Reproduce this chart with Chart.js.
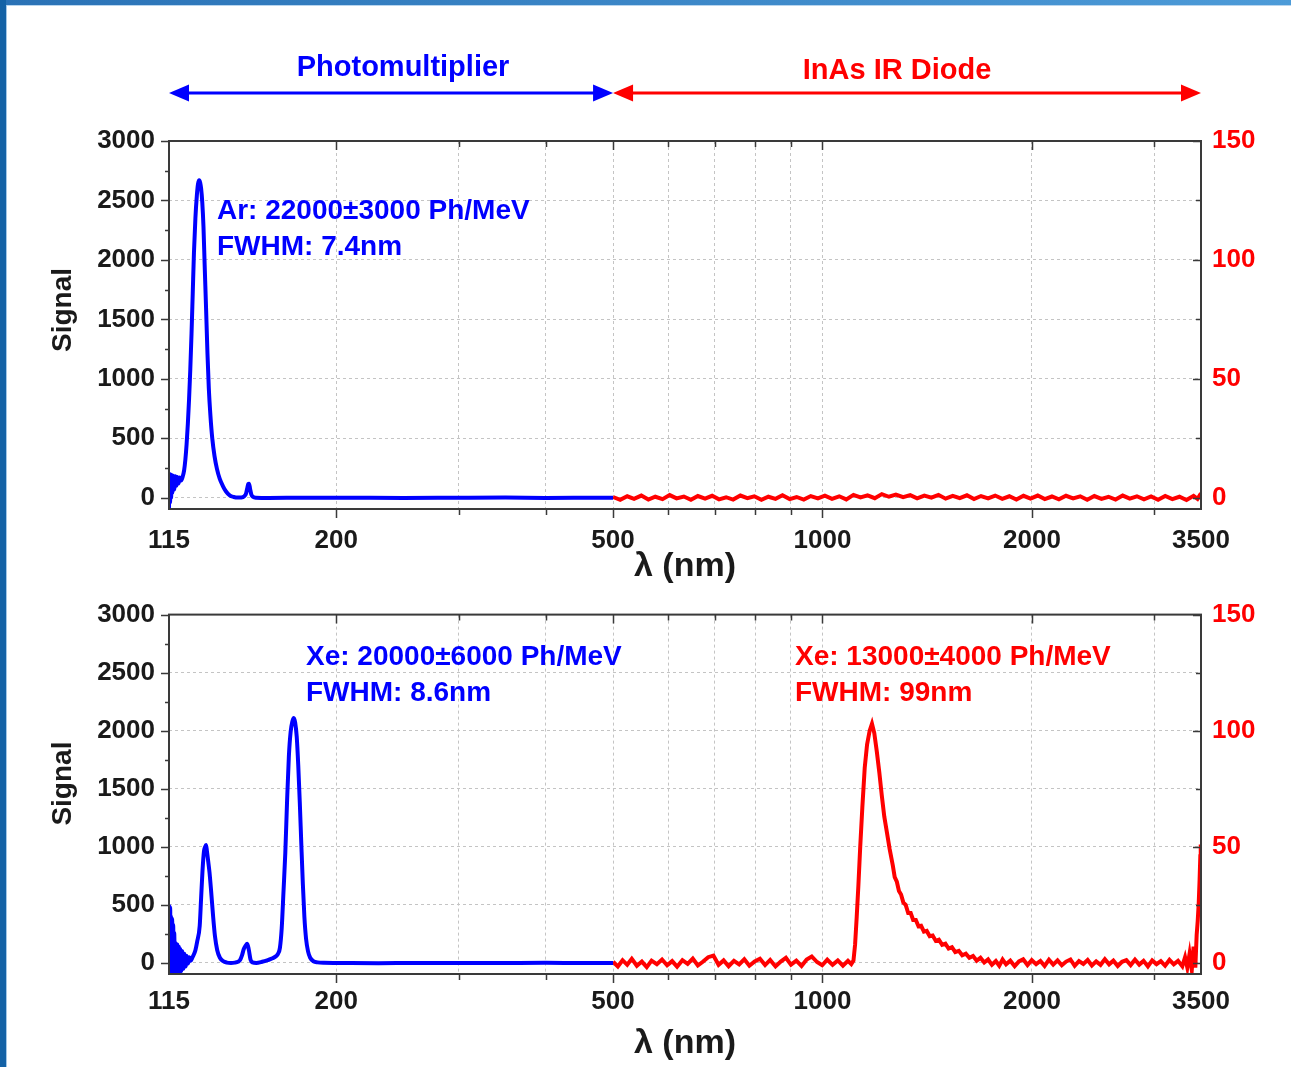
<!DOCTYPE html>
<html>
<head>
<meta charset="utf-8">
<script src="https://cdn.jsdelivr.net/npm/chart.js@4.4.1/dist/chart.umd.min.js"></script>
<style>
  html, body { margin:0; padding:0; background:#fff; width:1291px; height:1067px; overflow:hidden; position:relative; }
  canvas { position:absolute; left:0; }
  #c1 { top:0; }
  #c2 { top:585px; }
  #topbar { position:absolute; left:0; top:0; width:1291px; height:5px; background:linear-gradient(90deg,#2a72b6,#4d9bd8); }
  #topline { position:absolute; left:0; top:5px; width:1291px; height:1px; background:#b8d5ee; }
  #leftbar { position:absolute; left:0; top:0; width:6px; height:1067px; background:#1462a6; }
  #leftline { position:absolute; left:6px; top:5px; width:1px; height:1062px; background:#a3c8e8; }
</style>
</head>
<body>
<canvas id="c1" width="1291" height="585"></canvas>
<canvas id="c2" width="1291" height="482"></canvas>
<div id="topbar"></div><div id="topline"></div><div id="leftbar"></div><div id="leftline"></div>
<script>
// ---------------- DATA ----------------
// x axis (wavelength, nm, log scale)
const xGridValues  = [115, 200, 300, 400, 500, 600, 700, 800, 900, 1000, 2000, 3000, 3500];
const xLabelValues = [115, 200, 500, 1000, 2000, 3500];
// left axis (Signal) and right axis (InAs diode signal)
const leftTicks  = [0, 250, 500, 750, 1000, 1250, 1500, 1750, 2000, 2250, 2500, 2750, 3000];
const rightTicks = [0, 25, 50, 75, 100, 125, 150];

// detector ranges drawn as arrows above the top panel
const detectorNames = ['Photomultiplier', 'InAs IR Diode'];
const detectorFrom  = [115, 500];
const detectorTo    = [500, 3500];

// Ar – photomultiplier (nm, signal)
const arPmtSpectrum = [
  [115.0,-90],[115.2,200],[115.4,-40],[115.6,195],[115.8,0],[116.0,190],[116.3,40],[116.6,185],[117.0,70],[117.4,180],
  [117.8,100],[118.2,175],[118.7,120],[119.2,170],[119.7,145],[120.3,175],[120.9,230],[121.4,320],[121.9,450],[122.4,620],
  [122.9,830],[123.4,1080],[123.9,1380],[124.4,1720],[124.9,2060],[125.5,2350],[126.1,2540],[126.6,2640],[127.1,2670],[127.5,2650],
  [127.9,2600],[128.4,2480],[128.9,2280],[129.4,1960],[130.0,1600],[130.6,1220],[131.2,920],[131.9,690],[132.7,500],[133.7,350],
  [134.8,240],[136.0,160],[137.4,100],[138.9,52],[140.6,20],[142.5,6],[144.3,1],[146.0,2],[147.4,10],[148.4,35],
  [149.0,80],[149.5,115],[149.9,118],[150.4,75],[151.0,28],[151.9,6],[153.4,0],[160,-2],[180,0],[200,0],
  [250,-2],[300,0],[350,1],[400,-2],[450,-1],[500,0]
];
// Ar – InAs diode (nm, signal on right axis)
const arInasSpectrum = [
  [500,0.3],[512,-0.9],[524,0.6],[536,-0.5],[549,0.9],[562,-0.8],[575,0.4],[589,-0.6],[603,1.1],[617,-0.3],
  [632,0.5],[647,-0.9],[662,0.7],[678,-0.4],[694,0.8],[710,-0.7],[727,0.2],[744,-0.8],[762,0.9],[780,-0.2],
  [798,0.6],[817,-0.9],[836,0.4],[856,-0.5],[876,1.0],[897,-0.6],[918,0.3],[940,-0.8],[962,0.7],[985,-0.3],
  [1008,0.9],[1032,-0.5],[1057,0.6],[1082,-0.7],[1108,1.2],[1134,0.1],[1161,1.0],[1189,-0.2],[1217,1.5],[1246,0.4],
  [1275,1.3],[1306,0.2],[1337,1.1],[1368,-0.3],[1401,0.9],[1434,0.0],[1468,1.2],[1503,-0.4],[1539,0.8],[1575,-0.2],
  [1613,1.0],[1651,-0.6],[1690,0.7],[1730,-0.3],[1771,0.9],[1813,-0.5],[1856,0.6],[1900,-0.8],[1945,0.8],[1991,-0.4],
  [2039,0.9],[2087,-0.6],[2137,0.5],[2187,-0.7],[2239,0.8],[2292,-0.3],[2347,0.6],[2402,-0.9],[2459,0.7],[2518,-0.5],
  [2577,0.4],[2638,-0.8],[2701,0.9],[2765,-0.4],[2831,0.6],[2898,-0.7],[2967,0.5],[3037,-0.9],[3109,0.7],[3183,-0.6],
  [3259,0.4],[3336,-1.0],[3415,0.8],[3460,-0.5],[3500,1.8]
];
// Xe – photomultiplier (nm, signal)
const xePmtSpectrum = [
  [115.0,-90],[115.15,490],[115.3,-85],[115.45,480],[115.6,-85],[115.8,400],[116.0,-85],[116.2,380],[116.4,-85],[116.6,330],
  [116.8,-85],[117.0,260],[117.3,-85],[117.6,170],[117.9,-85],[118.2,160],[118.5,-85],[118.8,140],[119.1,-80],[119.4,120],
  [119.8,-70],[120.2,100],[120.6,-50],[121.0,80],[121.5,-30],[122.0,60],[122.5,-5],[123.0,50],[123.6,20],[124.2,45],
  [124.8,70],[125.5,110],[126.2,180],[127.3,320],[127.9,560],[128.5,800],[129.1,960],[129.6,1000],[130.0,1015],[130.4,960],
  [130.9,880],[131.5,780],[132.2,620],[133.0,420],[133.9,230],[134.9,110],[136.1,45],[137.6,15],[139.3,3],[141.2,0],
  [143.0,3],[144.5,10],[145.5,25],[146.5,70],[147.3,120],[148.2,150],[149.0,165],[149.8,110],[150.6,30],[151.6,5],
  [153.5,0],[156.5,10],[159.5,25],[162.0,40],[164.0,60],[165.0,80],[166.0,130],[167.0,300],[168.0,620],[169.0,950],
  [170.0,1400],[171.0,1780],[172.0,1990],[173.0,2080],[173.8,2110],[174.6,2070],[175.5,1950],[176.4,1700],[177.3,1380],[178.2,1020],
  [179.1,680],[180.0,400],[181.0,210],[182.2,100],[183.5,45],[185.5,15],[188,5],[192,1],[200,0],[230,-2],
  [260,0],[300,-1],[350,0],[400,1],[450,0],[500,0]
];
// Xe – InAs diode (nm, signal on right axis)
const xeInasSpectrum = [
  [500,0.5],[508,-1.5],[516,1.2],[524,-0.8],[532,1.8],[541,-1.2],[550,0.6],[559,-1.8],[568,1.0],[578,-0.5],
  [588,1.5],[598,-1.0],[608,0.8],[618,-1.6],[629,1.2],[640,-0.4],[651,1.9],[662,-1.1],[673,0.5],[685,2.5],
  [697,3.2],[709,-0.8],[721,1.1],[733,-1.4],[746,0.9],[759,-0.6],[772,1.6],[785,-1.2],[799,0.7],[813,1.8],
  [827,-0.9],[841,1.3],[856,-1.5],[871,0.6],[886,2.2],[901,-0.7],[917,1.0],[933,-1.3],[949,1.5],[965,2.8],
  [982,0.4],[999,-1.0],[1016,1.4],[1034,-0.8],[1052,1.1],[1070,-1.2],[1088,0.9],[1100,-0.5],
  [1108,1],[1114,8],[1120,20],[1126,33],[1133,50],[1141,67],[1150,84],[1159,94],[1169,100],[1178,103],
  [1187,99],[1197,91],[1207,82],[1217,72],[1227,63],[1238,56],[1249,49],[1262,42],[1270,37],[1279,35],
  [1288,31],[1297,29.5],[1307,26],[1317,25],[1328,21.5],[1339,21.5],[1350,18.5],[1362,18.5],[1374,15.8],[1386,16],
  [1399,13.5],[1412,13.8],[1426,11.5],[1440,11.8],[1455,9.5],[1470,10],[1486,7.8],[1502,8.3],[1518,6.2],[1535,6.8],
  [1552,4.7],[1570,5.2],[1588,3.3],[1607,4],[1626,2.2],[1646,3],[1666,1],[1687,2.2],[1708,0.2],[1730,1.5],
  [1752,-0.8],
  [1775,0.8],[1795,-1.2],[1815,1.5],[1836,-0.6],[1862,1.0],[1889,-1.4],[1916,0.7],[1943,1.6],[1971,-0.9],[1999,1.2],
  [2028,-0.5],[2057,0.9],[2086,-1.3],[2116,1.4],[2146,-0.7],[2177,1.1],[2208,-1.0],[2240,0.6],[2272,1.5],[2304,-1.2],
  [2337,0.8],[2371,-0.4],[2405,1.3],[2439,-1.1],[2474,0.7],[2510,-0.8],[2546,1.6],[2582,-0.6],[2619,1.0],[2657,-1.3],
  [2695,0.5],[2734,1.2],[2773,-0.9],[2813,1.4],[2853,-0.7],[2894,0.9],[2936,-1.5],[2978,1.1],[3021,-0.5],[3064,0.8],
  [3108,-1.2],[3153,1.3],[3198,-0.6],[3244,0.9],[3290,-1.4],
  [3320,2.5],[3345,-2],[3370,4],[3395,-3],[3415,7],[3435,-2],[3450,12],[3462,18],[3474,26],[3484,36],
  [3492,46],[3497,51],[3500,48]
];

// ---------------- STYLE ----------------
const BLUE = '#0000ff', RED = '#ff0000', INK = '#1a1a1a', GRID = '#c4c4c4', FRAME = '#3a3a3a';
const FONT = "'Liberation Sans', Arial, Helvetica, sans-serif";

const framePlugin = {
  id: 'frameTicks',
  afterDraw(chart) {
    const { ctx, chartArea: a, scales } = chart;
    const x = scales.x, y = scales.y, y2 = scales.y2;
    ctx.save();
    ctx.strokeStyle = FRAME;
    ctx.lineWidth = 1.5;
    ctx.beginPath();
    xGridValues.forEach(v => {
      if (v === 115 || v === 3500) return;
      const px = Math.round(x.getPixelForValue(v)) + 0.5;
      const len = xLabelValues.includes(v) ? 9 : 6;
      ctx.moveTo(px, a.bottom); ctx.lineTo(px, a.bottom + len);
      ctx.moveTo(px, a.top); ctx.lineTo(px, a.top + len);
    });
    leftTicks.forEach(v => {
      const py = Math.round(y.getPixelForValue(v)) + 0.5;
      const len = v % 500 === 0 ? 8 : 4;
      ctx.moveTo(a.left - len, py); ctx.lineTo(a.left, py);
    });
    rightTicks.forEach(v => {
      const py = Math.round(y2.getPixelForValue(v)) + 0.5;
      const len = v % 50 === 0 ? 8 : 5;
      ctx.moveTo(a.right - len, py); ctx.lineTo(a.right, py);
    });
    ctx.stroke();
    ctx.lineWidth = 2;
    ctx.strokeRect(a.left, a.top, a.right - a.left, a.bottom - a.top);
    // y axis title
    ctx.save();
    ctx.translate(63, a.top + 169);
    ctx.rotate(-Math.PI / 2);
    ctx.font = 'bold 28px ' + FONT;
    ctx.fillStyle = INK;
    ctx.textAlign = 'center';
    ctx.textBaseline = 'middle';
    ctx.fillText('Signal', 0, 0);
    ctx.restore();
    ctx.restore();
  }
};

function makeNotesPlugin(items) {
  return {
    id: 'panelNotes',
    afterDraw(chart) {
      const { ctx, chartArea: a } = chart;
      items.forEach(it => {
        ctx.save();
        ctx.font = 'bold ' + it.size + 'px ' + FONT;
        ctx.fillStyle = it.color;
        ctx.textAlign = 'left';
        ctx.textBaseline = 'middle';
        ctx.fillText(it.text, a.left + it.dx, a.top + it.dy);
        ctx.restore();
      });
    }
  };
}

function drawDoubleArrow(ctx, x1, x2, y, color) {
  const head = 20, half = 8.5;
  ctx.save();
  ctx.strokeStyle = color; ctx.fillStyle = color; ctx.lineWidth = 3;
  ctx.beginPath(); ctx.moveTo(x1 + head - 2, y); ctx.lineTo(x2 - head + 2, y); ctx.stroke();
  ctx.beginPath(); ctx.moveTo(x1, y); ctx.lineTo(x1 + head, y - half); ctx.lineTo(x1 + head, y + half); ctx.closePath(); ctx.fill();
  ctx.beginPath(); ctx.moveTo(x2, y); ctx.lineTo(x2 - head, y - half); ctx.lineTo(x2 - head, y + half); ctx.closePath(); ctx.fill();
  ctx.restore();
}

const arrowsPlugin = {
  id: 'detectorArrows',
  afterDraw(chart) {
    const { ctx, scales: { x } } = chart;
    const colors = [BLUE, RED];
    const labelShift = [12, -10];
    const labelY = [68, 71];
    detectorNames.forEach((name, i) => {
      const p1 = x.getPixelForValue(detectorFrom[i]);
      const p2 = x.getPixelForValue(detectorTo[i]);
      drawDoubleArrow(ctx, p1, p2, 93, colors[i]);
      ctx.save();
      ctx.font = 'bold 29px ' + FONT;
      ctx.fillStyle = colors[i];
      ctx.textAlign = 'center';
      ctx.textBaseline = 'middle';
      ctx.fillText(name, (p1 + p2) / 2 + labelShift[i], labelY[i]);
      ctx.restore();
    });
  }
};

function makePanel(canvasId, opt) {
  const tickFont = { family: FONT, size: 26, weight: 'bold' };
  return new Chart(document.getElementById(canvasId), {
    type: 'line',
    data: {
      datasets: [
        { data: opt.blue.map(([x, y]) => ({ x, y })), yAxisID: 'y', borderColor: BLUE, borderWidth: 4,
          pointRadius: 0, cubicInterpolationMode: 'monotone', fill: false },
        { data: opt.red.map(([x, y]) => ({ x, y })), yAxisID: 'y2', borderColor: RED, borderWidth: 4,
          pointRadius: 0, tension: 0, fill: false }
      ]
    },
    options: {
      responsive: false, animation: false, devicePixelRatio: 1,
      layout: { padding: { top: opt.padTop, left: 0, right: 0, bottom: 0 } },
      plugins: { legend: { display: false }, tooltip: { enabled: false } },
      scales: {
        x: {
          type: 'logarithmic', position: 'bottom', min: 115, max: 3500,
          afterBuildTicks: s => { s.ticks = xGridValues.map(v => ({ value: v })); },
          afterFit: s => { s.height = opt.xAxisHeight; },
          ticks: { autoSkip: false, maxRotation: 0, minRotation: 0, padding: opt.xTickPad, color: INK, font: tickFont,
                   callback: v => xLabelValues.includes(v) ? String(v) : '' },
          grid: { drawTicks: false, lineWidth: 1,
                  color: c => (c.tick && (c.tick.value === 115 || c.tick.value === 3500)) ? 'rgba(0,0,0,0)' : GRID },
          border: { display: false, dash: [3, 3] },
          title: { display: true, text: 'λ (nm)', color: INK, font: { family: FONT, size: 34, weight: 'bold' },
                   padding: { top: 0, bottom: opt.xTitlePad } }
        },
        y: {
          type: 'linear', position: 'left', min: -95, max: 3000,
          afterBuildTicks: s => { s.ticks = leftTicks.map(v => ({ value: v })); },
          afterFit: s => { s.width = 169; },
          ticks: { autoSkip: false, padding: 14, color: INK, font: tickFont,
                   callback: v => v % 500 === 0 ? String(v) : '' },
          grid: { drawTicks: false, lineWidth: 1,
                  color: c => (c.tick && c.tick.value % 500 === 0 && c.tick.value < 3000) ? GRID : 'rgba(0,0,0,0)' },
          border: { display: false, dash: [3, 3] },
          title: { display: false, text: 'Signal' }
        },
        y2: {
          type: 'linear', position: 'right', min: -4.75, max: 150,
          afterBuildTicks: s => { s.ticks = rightTicks.map(v => ({ value: v })); },
          afterFit: s => { s.width = 90; },
          ticks: { autoSkip: false, padding: 11, color: RED, font: tickFont,
                   callback: v => v % 50 === 0 ? String(v) : '' },
          grid: { display: false, drawTicks: false },
          border: { display: false }
        }
      }
    },
    plugins: [framePlugin, makeNotesPlugin(opt.notes)].concat(opt.extra || [])
  });
}

makePanel('c1', {
  blue: arPmtSpectrum, red: arInasSpectrum,
  padTop: 141, xAxisHeight: 76, xTickPad: 16, xTitlePad: -2,
  notes: [
    { text: 'Ar: 22000±3000 Ph/MeV', color: BLUE, size: 28, dx: 48, dy: 70 },
    { text: 'FWHM: 7.4nm', color: BLUE, size: 28, dx: 48, dy: 106 }
  ],
  extra: [arrowsPlugin]
});

makePanel('c2', {
  blue: xePmtSpectrum, red: xeInasSpectrum,
  padTop: 20, xAxisHeight: 93, xTickPad: 12, xTitlePad: 3,
  notes: [
    { text: 'Xe: 20000±6000 Ph/MeV', color: BLUE, size: 28, dx: 137, dy: 43 },
    { text: 'FWHM: 8.6nm', color: BLUE, size: 28, dx: 137, dy: 79 },
    { text: 'Xe: 13000±4000 Ph/MeV', color: RED, size: 28, dx: 626, dy: 43 },
    { text: 'FWHM: 99nm', color: RED, size: 28, dx: 626, dy: 79 }
  ]
});
</script>
</body>
</html>
